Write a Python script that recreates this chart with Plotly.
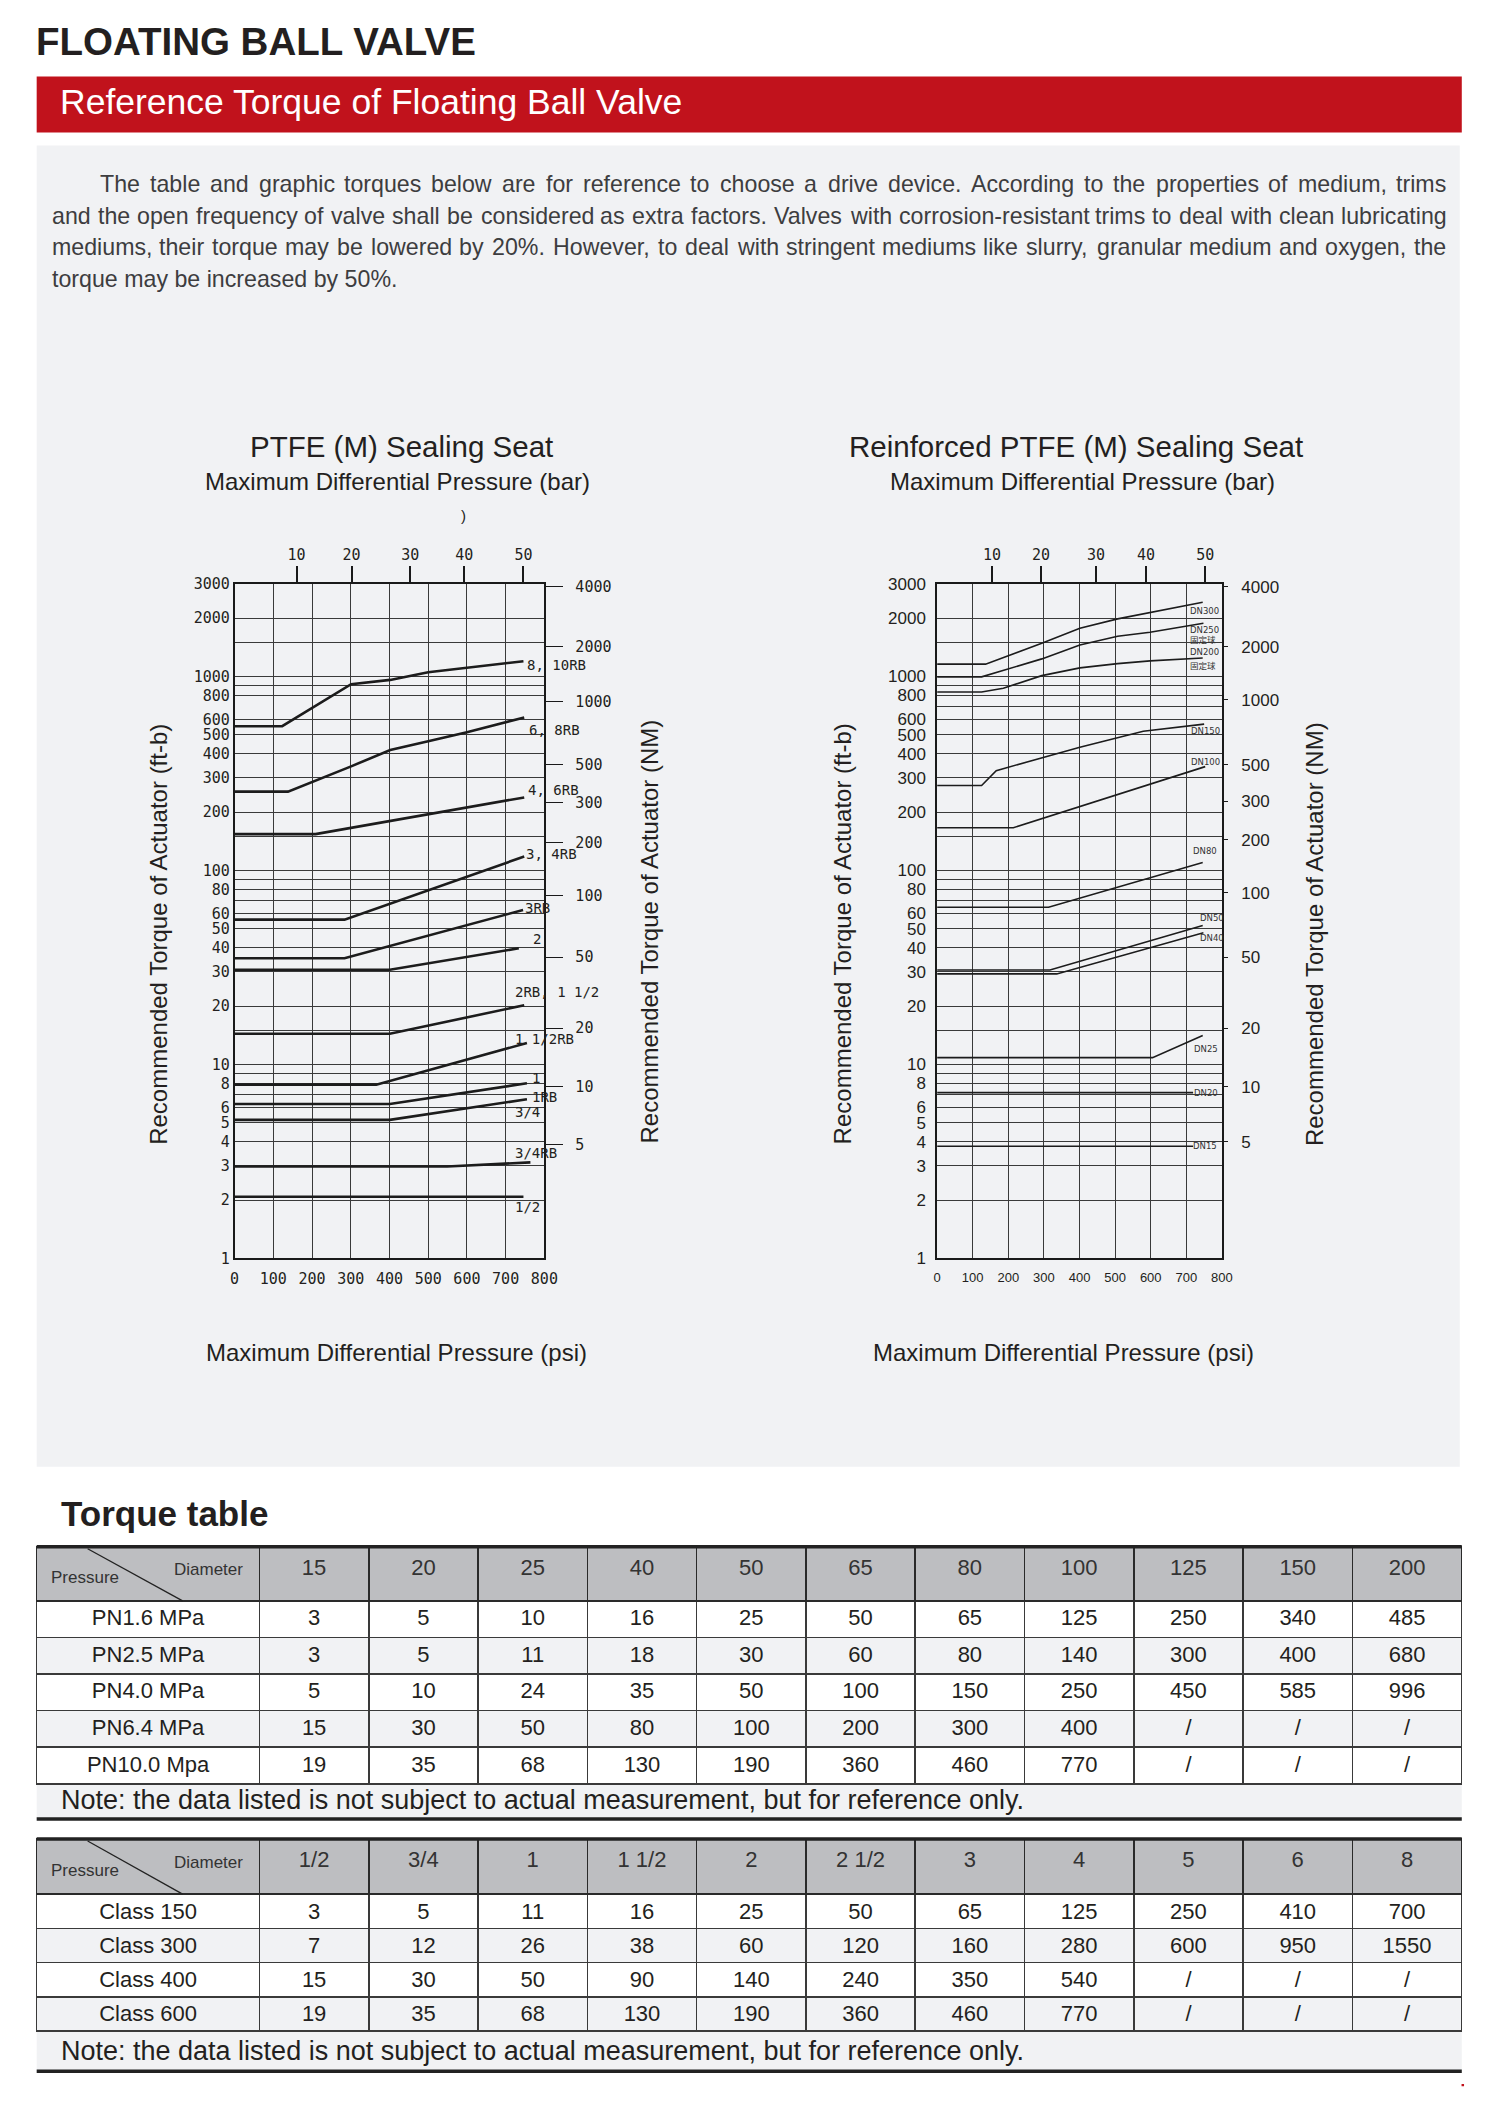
import numpy as np
import plotly.graph_objects as go

# page is 1498x2102; the browser body keeps an 8px margin, so the figure is drawn inset
W, H, OFF = 1498, 2102, 8
FW, FH = W - 2 * OFF, H - 2 * OFF
# measured drift of the photographed page against the reference (scale, shift)
SX, CX, SY, CY = 0.9878, 4.4, 0.990, 10.7

# ---- chart data (psi vs ft-lb) ----
Y_TICKS = [1, 2, 3, 4, 5, 6, 8, 10, 20, 30, 40, 50, 60, 80, 100, 200, 300, 400, 500, 600, 800, 1000, 2000, 3000]
LEFT_MINOR = [7, 9, 15, 70, 90, 150, 900, 1500]
RIGHT_MINOR = [7, 9, 15, 70, 90, 150, 700, 900, 1500]
PSI_TICKS = [0, 100, 200, 300, 400, 500, 600, 700, 800]
BAR_LABELS = ["10", "20", "30", "40", "50"]
LEFT_BAR_POS = [160, 302, 454, 593, 746]
RIGHT_BAR_POS = [154, 292, 446, 587, 753]
NM_LABELS = ["4000", "2000", "1000", "500", "300", "200", "100", "50", "20", "10", "5"]
LEFT_NM_POS = [2895, 1420, 740, 350, 223, 139, 74, 35.8, 15.4, 7.67, 3.85]
RIGHT_NM_POS = [2895, 1420, 757, 350, 228, 144, 76.6, 35.8, 15.4, 7.67, 3.99]

LEFT_NAMES = ["8, 10RB", "6, 8RB", "4, 6RB", "3, 4RB", "3RB", "2", "2RB, 1 1/2",
              "1 1/2RB", "1", "3/4", "3/4RB", "1/2"]
LEFT_X = [[0, 123, 301, 402, 500, 600, 746], [0, 138, 301, 402, 500, 600, 748],
          [0, 209, 748], [0, 284, 748], [0, 284, 745], [0, 401, 734], [0, 401, 748],
          [0, 366, 755], [0, 401, 755], [0, 401, 755], [0, 549, 764], [0, 746]]
LEFT_Y = [[554, 554, 912, 960, 1052, 1111, 1198], [255, 255, 344, 418, 464, 516, 614],
          [154, 154, 238], [55.8, 55.8, 118], [35.3, 35.3, 62.6], [30.8, 30.8, 39.7],
          [14.4, 14.4, 20.2], [7.87, 7.87, 12.9], [6.26, 6.26, 8.0], [5.18, 5.18, 6.62],
          [2.98, 2.98, 3.13], [2.08, 2.08]]
LEFT_LABELS = ["8, 10RB", "6, 8RB", "4, 6RB", "3, 4RB", "3RB", "2", "2RB, 1 1/2",
               "1 1/2RB", "1", "1RB", "3/4", "3/4RB", "1/2"]
# left edge of each label (psi) and its height (ft-lb)
LEFT_LABEL_X = [751, 755, 753, 748, 745, 765, 719, 719, 764, 762, 719, 719, 719]
LEFT_LABEL_Y = [1147, 530, 261, 121, 64, 44.4, 23.7, 13.5, 8.5, 6.8, 5.7, 3.5, 1.85]

RIGHT_NAMES = ["DN300", "DN250", "DN200", "DN150", "DN100", "DN80", "DN50", "DN40",
               "DN25", "DN20", "DN15"]
RIGHT_X = [[0, 136, 294, 401, 507, 598, 746], [0, 125, 294, 401, 507, 598, 748],
           [0, 125, 186, 294, 401, 507, 598, 746], [0, 125, 166, 294, 401, 579, 750],
           [0, 214, 753], [0, 313, 746], [0, 317, 746], [0, 336, 748], [0, 605, 746],
           [0, 719], [0, 719]]
RIGHT_Y = [[1157, 1157, 1484, 1773, 1980, 2135, 2413], [995, 995, 1232, 1454, 1612, 1691, 1881],
           [832, 832, 869, 1010, 1107, 1165, 1203, 1246], [274, 274, 327, 379, 432, 522, 568],
           [166, 166, 343], [64.6, 64.6, 110], [30.7, 30.7, 52], [29.3, 29.3, 47.7],
           [10.85, 10.85, 14.1], [7.16, 7.16], [3.79, 3.79]]
RIGHT_LABELS = ["DN300", "DN250", "固定球", "DN200", "固定球", "DN150", "DN100", "DN80",
                "DN50", "DN40", "DN25", "DN20", "DN15"]
RIGHT_LABEL_X = [750, 750, 748, 750, 748, 755, 755, 752, 771, 771, 755, 755, 752]
RIGHT_LABEL_Y = [2185, 1738, 1549, 1334, 1130, 526, 364, 126, 56.7, 44.9, 11.95, 7.16, 3.79]

# ---- table data ----
PN_DIAMETERS = ["15", "20", "25", "40", "50", "65", "80", "100", "125", "150", "200"]
PN_ROWS = ["PN1.6 MPa", "PN2.5 MPa", "PN4.0 MPa", "PN6.4 MPa", "PN10.0 Mpa"]
PN_TORQUE = [
    ["3", "5", "10", "16", "25", "50", "65", "125", "250", "340", "485"],
    ["3", "5", "11", "18", "30", "60", "80", "140", "300", "400", "680"],
    ["5", "10", "24", "35", "50", "100", "150", "250", "450", "585", "996"],
    ["15", "30", "50", "80", "100", "200", "300", "400", "/", "/", "/"],
    ["19", "35", "68", "130", "190", "360", "460", "770", "/", "/", "/"],
]
CLASS_DIAMETERS = ["1/2", "3/4", "1", "1 1/2", "2", "2 1/2", "3", "4", "5", "6", "8"]
CLASS_ROWS = ["Class 150", "Class 300", "Class 400", "Class 600"]
CLASS_TORQUE = [
    ["3", "5", "11", "16", "25", "50", "65", "125", "250", "410", "700"],
    ["7", "12", "26", "38", "60", "120", "160", "280", "600", "950", "1550"],
    ["15", "30", "50", "90", "140", "240", "350", "540", "/", "/", "/"],
    ["19", "35", "68", "130", "190", "360", "460", "770", "/", "/", "/"],
]

INTRO = [
    "The table and graphic torques below are for reference to choose a drive device. According to the properties of medium, trims",
    "and the open frequency of valve shall be considered as extra factors. Valves with corrosion-resistant trims to deal with clean lubricating",
    "mediums, their torque may be lowered by 20%. However, to deal with stringent mediums like slurry, granular medium and oxygen, the",
    "torque may be increased by 50%.",
]
NOTE = "Note: the data listed is not subject to actual measurement, but for reference only."

SANS = "Liberation Sans, Arial, sans-serif"
MONO = "DejaVu Sans Mono, monospace"
INK = "#231F20"
GRID = "#3a3a3a"
PANEL = "#F1F2F4"
RED = "#C1121C"

# Arial advance widths (1/1000 em) used to justify the intro paragraph
ARIAL_W = dict(zip("abcdefghijklmnopqrstuvwxyz",
                   [556, 556, 500, 556, 556, 278, 556, 556, 222, 222, 500, 222, 833,
                    556, 556, 556, 556, 333, 500, 278, 556, 500, 722, 500, 500, 500]))
ARIAL_W.update({"T": 611, "A": 667, "V": 667, "H": 722, ".": 278, ",": 278, "-": 333,
                "%": 889, " ": 278})


def px(x):
    return ((x - CX) / SX - OFF) / FW


def py(y):
    return 1 - ((y - CY) / SY - OFF) / FH


fig = go.Figure()

# curves
for name, xs, ys in zip(LEFT_NAMES, LEFT_X, LEFT_Y):
    fig.add_trace(go.Scatter(x=xs, y=ys, mode="lines", name=name, xaxis="x", yaxis="y",
                             line=dict(color="#1c1c1c", width=2.6)))
for name, xs, ys in zip(RIGHT_NAMES, RIGHT_X, RIGHT_Y):
    fig.add_trace(go.Scatter(x=xs, y=ys, mode="lines", name=name, xaxis="x3", yaxis="y3",
                             line=dict(color="#1c1c1c", width=1.6)))
# secondary axes need a trace to be drawn
fig.add_trace(go.Scatter(x=[None], y=[None], xaxis="x2", yaxis="y2", showlegend=False))
fig.add_trace(go.Scatter(x=[None], y=[None], xaxis="x4", yaxis="y4", showlegend=False))

# curve labels sit on the data axes (log axis -> log10 position)
for t, lx, ly in zip(LEFT_LABELS, LEFT_LABEL_X, LEFT_LABEL_Y):
    fig.add_annotation(text=t, x=lx, y=np.log10(ly), xref="x", yref="y", showarrow=False,
                       xanchor="left", font=dict(family=MONO, size=14, color=INK))
for t, lx, ly in zip(RIGHT_LABELS, RIGHT_LABEL_X, RIGHT_LABEL_Y):
    fig.add_annotation(text=t, x=lx, y=np.log10(ly), xref="x3", yref="y3", showarrow=False,
                       font=dict(family="DejaVu Sans, Noto Sans CJK SC", size=8.5, color="#333"))

ydom = [py(1259), py(585)]
yrange = [0, np.log10(3000)]


def main_x(dom, anchor, font):
    return dict(domain=dom, anchor=anchor, range=[0, 800], tickvals=PSI_TICKS,
                showgrid=True, gridcolor=GRID, gridwidth=1.3, zeroline=False,
                showline=True, linecolor="#1a1a1a", linewidth=1.6, mirror=True,
                ticks="outside", ticklen=6, tickcolor="rgba(0,0,0,0)", tickfont=font)


def main_y(anchor, minor, standoff, font):
    return dict(domain=ydom, anchor=anchor, type="log", range=yrange, tickvals=Y_TICKS,
                ticktext=[str(v) for v in Y_TICKS],
                showgrid=True, gridcolor=GRID, gridwidth=1.3, zeroline=False,
                minor=dict(tickvals=minor, showgrid=True, gridcolor=GRID, gridwidth=1.3, ticks=""),
                showline=True, linecolor="#1a1a1a", linewidth=1.6, mirror=True,
                ticks="", ticklabelstandoff=standoff, tickfont=font)


def top_x(over, anchor, pos):
    return dict(overlaying=over, anchor=anchor, side="top", range=[0, 800], tickvals=pos,
                ticktext=BAR_LABELS, showgrid=False, zeroline=False, showline=False,
                ticks="outside", ticklen=17, tickwidth=1.5, tickcolor="#1a1a1a",
                tickfont=dict(family=MONO, size=15, color=INK))


def nm_y(over, anchor, pos, tlen, standoff, font):
    return dict(overlaying=over, anchor=anchor, side="right", type="log", range=yrange,
                tickvals=pos, ticktext=NM_LABELS, showgrid=False, zeroline=False,
                showline=False, ticks="outside", ticklen=tlen, tickwidth=1.4,
                tickcolor="#1a1a1a", ticklabelstandoff=standoff, tickfont=font)


mono = dict(family=MONO, size=15, color=INK)
sans = dict(family=SANS, size=17, color=INK)
fig.update_layout(
    xaxis=main_x([px(234), px(544)], "y", mono),
    yaxis=main_y("x", LEFT_MINOR, 0, mono),
    xaxis2=top_x("x", "y", LEFT_BAR_POS),
    yaxis2=nm_y("y", "x", LEFT_NM_POS, 18, 9, mono),
    xaxis3=main_x([px(937), px(1222)], "y3", dict(family=SANS, size=13, color=INK)),
    yaxis3=main_y("x3", RIGHT_MINOR, 6, sans),
    xaxis4=top_x("x3", "y3", RIGHT_BAR_POS),
    yaxis4=nm_y("y3", "x3", RIGHT_NM_POS, 5, 10, sans),
)


# ---- tables ----
def table_trace(rows, diameters, torque, top, header_h, row_h):
    ncol = len(diameters) + 1
    cols = [rows] + [[r[i] for r in torque] for i in range(len(diameters))]
    fills = [["white" if k % 2 == 0 else PANEL for k in range(len(rows))]] * ncol
    bottom = top + header_h + row_h * len(rows) + 4
    # empty small first line pushes the header numbers down to mid-cell
    heads = [""] + ["<br><span style='font-size:22px'>%s</span>" % d for d in diameters]
    return go.Table(
        domain=dict(x=[px(36), px(1462)], y=[py(bottom), py(top)]),
        columnwidth=[223] + [109.4] * len(diameters),
        header=dict(values=heads, height=header_h, fill_color="#BDBEC1",
                    line=dict(color="#2a2a2a", width=1.5), align="center",
                    font=dict(family=SANS, size=12, color="#333")),
        cells=dict(values=cols, height=row_h, fill_color=fills,
                   line=dict(color="#3a3a3a", width=1.5), align="center",
                   font=dict(family=SANS, size=22, color=INK)),
    )


fig.add_trace(table_trace(PN_ROWS, PN_DIAMETERS, PN_TORQUE, 1547, 54, 36.6))
fig.add_trace(table_trace(CLASS_ROWS, CLASS_DIAMETERS, CLASS_TORQUE, 1839, 55, 34.25))

shapes = [
    dict(type="rect", xref="paper", yref="paper", x0=px(36), x1=px(1460), y0=py(1467), y1=py(147),
         fillcolor=PANEL, line_width=0, layer="below"),
    dict(type="rect", xref="paper", yref="paper", x0=px(36), x1=px(1462), y0=py(134), y1=py(78),
         fillcolor=RED, line_width=0, layer="below"),
    dict(type="rect", xref="paper", yref="paper", x0=px(36), x1=px(1462), y0=py(1819), y1=py(1780),
         fillcolor=PANEL, line_width=0, layer="below"),
    dict(type="rect", xref="paper", yref="paper", x0=px(36), x1=px(1462), y0=py(2071), y1=py(2031),
         fillcolor=PANEL, line_width=0, layer="below"),
    dict(type="line", xref="paper", yref="paper", x0=px(1463), x1=px(1463), y0=0, y1=py(2086),
         line=dict(color=RED, width=2.5)),
]
for top, bot, note_bot in [(1547, 1601, 1819), (1839, 1894, 2071)]:
    shapes.append(dict(type="line", xref="paper", yref="paper", x0=px(36), x1=px(1462),
                       y0=py(top), y1=py(top), line=dict(color="#222", width=3.5)))
    shapes.append(dict(type="line", xref="paper", yref="paper", x0=px(36), x1=px(1462),
                       y0=py(note_bot), y1=py(note_bot), line=dict(color="#222", width=3.5)))
    shapes.append(dict(type="line", xref="paper", yref="paper", x0=px(87), x1=px(182),
                       y0=py(top + 2), y1=py(bot), line=dict(color="#222", width=1.3)))
fig.update_layout(shapes=shapes)


def note(text, x, y, size, color=INK, anchor="left", bold=False, angle=0, family=SANS):
    if bold:
        text = "<b>" + text + "</b>"
    fig.add_annotation(text=text, xref="paper", yref="paper", x=px(x), y=py(y),
                       xanchor=anchor, yanchor="middle", showarrow=False, textangle=angle,
                       font=dict(family=family, size=size, color=color))


note("FLOATING BALL VALVE", 33, 43, 38.5, bold=True)
note("Reference Torque of Floating Ball Valve", 57, 104, 35.5, color="white")

# intro paragraph, justified between the left edge and x=1444 (last line ragged)
INTRO_SIZE = 23.2
line_x = [97, 49, 49, 49]
line_y = [185, 217, 248, 280]
for i, (t, lx, ly) in enumerate(zip(INTRO, line_x, line_y)):
    if i == len(INTRO) - 1:
        note(t, lx, ly, INTRO_SIZE, color="#3d3d3f")
        continue
    words = t.split(" ")
    widths = [sum(ARIAL_W.get(c, 556) for c in w) * INTRO_SIZE / 1000 * SX for w in words]
    gap = (1444 - lx - sum(widths)) / (len(words) - 1)
    x = lx
    for w, wd in zip(words, widths):
        note(w, x, ly, INTRO_SIZE, color="#3d3d3f")
        x += wd + gap

note("PTFE (M) Sealing Seat", 401, 448, 29.5, anchor="center")
note("Reinforced PTFE (M) Sealing Seat", 1076, 448, 29.5, anchor="center")
note("Maximum Differential Pressure (bar)", 397, 483, 24, anchor="center")
note("Maximum Differential Pressure (bar)", 1082, 483, 24, anchor="center")
note(")", 463, 517, 15, anchor="center")
note("Maximum Differential Pressure (psi)", 396, 1353, 24, anchor="center")
note("Maximum Differential Pressure (psi)", 1063, 1353, 24, anchor="center")
note("Recommended Torque of Actuator (ft-b)", 158, 935, 24, anchor="center", angle=-90)
note("Recommended Torque of Actuator (NM)", 649, 932, 24, anchor="center", angle=-90)
note("Recommended Torque of Actuator (ft-b)", 842, 935, 24, anchor="center", angle=-90)
note("Recommended Torque of Actuator (NM)", 1314, 935, 24, anchor="center", angle=-90)

note("Torque table", 58, 1514, 35, bold=True)
note(NOTE, 58, 1800, 27)
note(NOTE, 58, 2051, 27)
for top in [1547, 1839]:
    note("Diameter", 208, top + 23, 17, color="#333", anchor="center")
    note("Pressure", 84, top + 31, 17, color="#333", anchor="center")

fig.update_layout(width=FW, height=FH, autosize=False, margin=dict(l=0, r=0, t=0, b=0),
                  paper_bgcolor="white", plot_bgcolor="rgba(0,0,0,0)", showlegend=False)

fig.write_html("out.html")
